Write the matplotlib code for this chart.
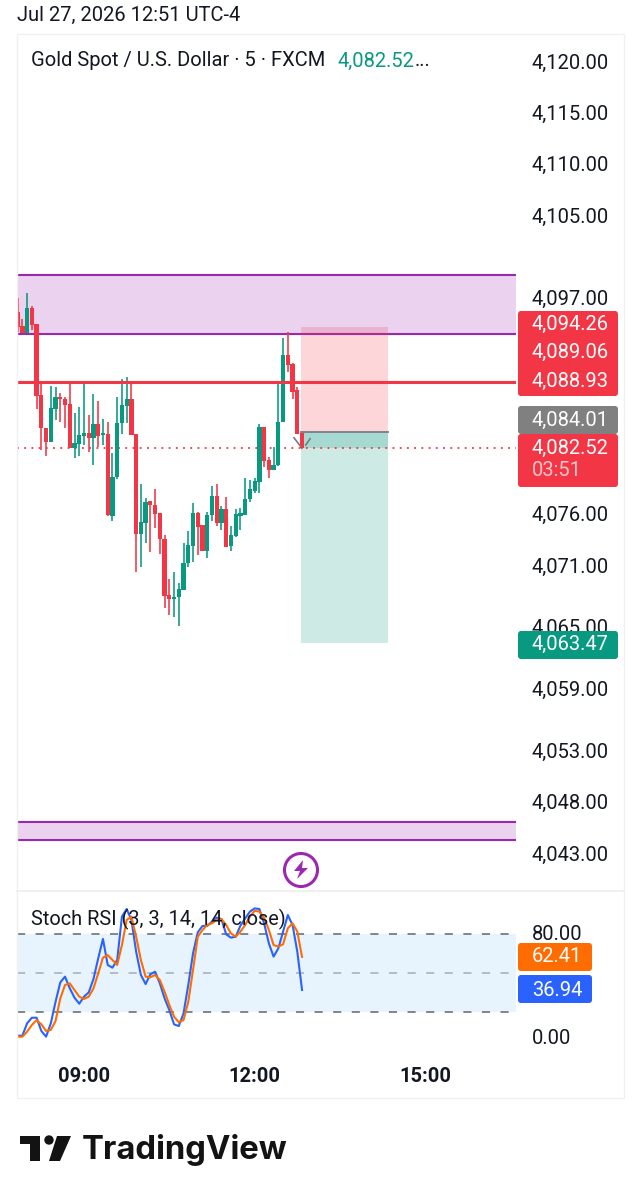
import matplotlib
matplotlib.use("Agg")
import matplotlib.pyplot as plt
import matplotlib.transforms as mtrans
import numpy as np
from matplotlib.patches import Circle, FancyBboxPatch, Polygon, Rectangle

plt.rcParams["font.family"] = ["Roboto", "DejaVu Sans"]

# candles, 5 min bars, bar 0 is 09:00
opens = [4095.6, 4094.27, 4093.69, 4096.05, 4094.43, 4087.57, 4084.39, 4083.03, 4086.27, 4087.37, 4087.21, 4086.66,
         4082.51, 4082.87, 4083.64, 4083.84, 4083.42, 4084.71, 4083.74, 4083.74, 4075.86, 4079.62, 4084.88, 4086.56,
         4087.14, 4083.74, 4074.11, 4075.21, 4077.25, 4076.93, 4076.06, 4073.59, 4068.12, 4067.76, 4067.96, 4068.67,
         4071.26, 4072.95, 4076.06, 4074.89, 4072.46, 4075.93, 4077.74, 4075.15, 4076.45, 4072.95, 4073.92, 4075.86,
         4075.96, 4077.48, 4078.33, 4079.21, 4084.49, 4081.25, 4080.34, 4080.79, 4084.97, 4091.45, 4090.55, 4088.02,
         4083.90]
highs = [4097.03, 4094.98, 4097.51, 4096.28, 4094.43, 4088.83, 4084.39, 4088.54, 4088.44, 4087.79, 4087.47, 4088.83,
         4085.85, 4086.5, 4088.67, 4085.69, 4087.73, 4087.08, 4085.26, 4085.04, 4081.95, 4087.47, 4089.15, 4089.35,
         4088.83, 4083.74, 4078.94, 4077.58, 4077.32, 4078.45, 4076.06, 4074.02, 4069.71, 4070.45, 4069.32, 4073.21,
         4074.37, 4077.09, 4076.28, 4074.99, 4076.28, 4078.81, 4078.97, 4076.83, 4077.68, 4074.89, 4076.51, 4076.61,
         4079.59, 4079.36, 4079.53, 4084.81, 4084.49, 4081.64, 4082.61, 4088.67, 4093.14, 4093.72, 4090.77, 4088.44,
         4083.90]
lows = [4093.79, 4093.69, 4093.69, 4093.95, 4086.24, 4082.28, 4081.7, 4083.03, 4085.2, 4085.04, 4084.39, 4082.45,
        4081.47, 4081.7, 4082.77, 4082.12, 4080.83, 4082.61, 4082.77, 4075.9, 4075.41, 4079.43, 4083.84, 4084.88,
        4083.74, 4070.45, 4070.94, 4073.21, 4072.33, 4074.66, 4072.17, 4066.95, 4066.24, 4066.08, 4065.17, 4068.67,
        4070.94, 4071.42, 4072.07, 4072.46, 4071.75, 4075.41, 4074.89, 4074.5, 4072.82, 4072.49, 4073.86, 4074.5,
        4075.96, 4077.26, 4078.07, 4078.14, 4080.66, 4079.59, 4080.34, 4080.73, 4084.97, 4089.83, 4087.24, 4083.84,
        4082.4]
closes = [4094.27, 4093.69, 4096.05, 4094.43, 4087.57, 4084.39, 4083.03, 4086.27, 4087.37, 4087.21, 4086.66, 4082.51,
          4082.93, 4083.64, 4083.84, 4083.42, 4084.71, 4083.64, 4083.84, 4075.96, 4079.62, 4084.88, 4086.56, 4087.14,
          4083.74, 4074.11, 4075.21, 4077.16, 4076.93, 4076.06, 4073.59, 4068.12, 4067.76, 4067.89, 4068.67, 4071.26,
          4072.95, 4076.06, 4074.76, 4072.46, 4075.93, 4077.74, 4075.15, 4076.45, 4072.88, 4073.92, 4075.96, 4076.06,
          4077.48, 4078.39, 4079.21, 4084.49, 4081.25, 4080.34, 4080.79, 4084.97, 4091.45, 4090.55, 4087.95, 4083.84,
          4082.52]

# stoch rsi
stoch_k = [1.8, 1.8, 11.3, 15.6, 15.6, 5.4, 1.0, 11.3, 27.9, 42.8, 47.2, 38.2, 31.0, 26.4, 31.8, 35.1, 45.4, 61.3,
           76.2, 56.2, 54.1, 60.0, 93.3, 99.2, 90.8, 66.4, 48.5, 41.5, 49.0, 51.0, 42.0, 30.5, 21.5, 10.5, 9.2, 19.0,
           40.8, 65.1, 81.3, 86.2, 86.2, 89.5, 92.6, 91.5, 79.7, 77.2, 77.9, 86.4, 92.0, 97.2, 99.7, 99.2, 88.2, 72.8,
           62.6, 69.0, 81.8, 94.6, 86.9, 66.4, 36.94]
stoch_d = [1.0, 1.0, 4.9, 10.0, 13.8, 10.5, 5.4, 6.2, 13.1, 30.5, 40.8, 42.0, 36.9, 31.8, 30.0, 31.8, 38.2, 49.7,
           61.8, 63.8, 60.0, 56.2, 71.5, 90.8, 93.3, 77.9, 60.0, 47.2, 46.7, 48.5, 44.6, 35.6, 25.4, 16.4, 12.1, 13.8,
           27.9, 52.3, 77.9, 83.1, 86.9, 88.2, 90.8, 91.5, 86.9, 80.5, 77.9, 81.8, 86.9, 93.3, 97.9, 97.2, 92.6, 83.1,
           71.5, 70.3, 72.1, 84.4, 88.2, 81.8, 62.41]

price_ticks = [4120, 4115, 4110, 4105, 4097, 4076, 4071, 4065, 4059, 4053, 4048, 4043]
stoch_ticks = [80, 0]
time_ticks = [0, 36, 72]
time_labels = ["09:00", "12:00", "15:00"]

upper_zone = [4093.55, 4099.3]
lower_zone = [4044.4, 4046.1]
resistance = 4088.93
last_price = 4082.52
entry = 4084.01
stop = 4094.26
target = 4063.47
tool_start = 45.7
tool_end = 64.2

GREEN = "#089981"
RED = "#F23645"
PURPLE = "#9C27B0"
TEXT = "#131722"

W, H = 641, 1200


def pane(left, top, right, bottom):
    return fig.add_axes([left / W, 1 - bottom / H, (right - left) / W, (bottom - top) / H])


def badge(x0, y0, x1, y1, color):
    over.add_patch(FancyBboxPatch((x0 + 2, y0 + 2), x1 - x0 - 4, y1 - y0 - 4, boxstyle="round,pad=2,rounding_size=3",
                                  fc=color, ec="none"))


fig = plt.figure(figsize=(W / 100, H / 100), dpi=100, facecolor="white")
up_1px = mtrans.ScaledTranslation(0, 1 / 100, fig.dpi_scale_trans)

bars = np.arange(-14, 47)
opens_a, closes_a = np.array(opens), np.array(closes)
colors = [GREEN if c >= o else RED for o, c in zip(opens, closes)]

ax = pane(17, 34, 516, 891)
ax.set_xlim((17 - 84) / 4.74, (516 - 84) / 4.74)
ax.set_ylim(4120 - (891 - 62) / 10.286, 4120 + (62 - 34) / 10.286)

# zones
for lo, hi in [upper_zone, lower_zone]:
    ax.axhspan(lo, hi, fc=PURPLE, alpha=0.2, lw=0, zorder=1)
    ax.axhline(lo, color=PURPLE, lw=1.5, zorder=2)
    ax.axhline(hi, color=PURPLE, lw=1.5, zorder=2)

# short position tool
ax.fill_between([tool_start, tool_end], entry, stop, color=RED, alpha=0.2, lw=0, zorder=2)
ax.fill_between([tool_start, tool_end], target, entry, color=GREEN, alpha=0.2, lw=0, zorder=2)
ax.fill_between([tool_start, tool_end], last_price, entry, color=GREEN, alpha=0.2, lw=0, zorder=2)
ax.plot([tool_start, tool_end], [entry, entry], color="#787B86", lw=1.3, zorder=3)

ax.vlines(bars, lows, highs, colors=colors, lw=1.15, zorder=4)
ax.bar(bars, np.abs(closes_a - opens_a) + 0.05, bottom=np.minimum(opens_a, closes_a), width=0.9, color=colors,
       lw=0, zorder=5)

ax.axhline(resistance, color=RED, lw=2.2, zorder=6)
ax.axhline(last_price, color=RED, lw=1.3, ls=(0, (1, 3)), zorder=3)

# entry marker
ax.plot([44.3, 45.7], [last_price + 0.95, last_price + 0.1], color="#787B86", lw=1.2, zorder=6)
ax.plot([46.8, 47.7], [last_price + 0.25, last_price + 0.85], color="#787B86", lw=1.2, zorder=6)

ax.set_xticks([])
ax.yaxis.tick_right()
ax.set_yticks(price_ticks)
ax.set_yticklabels([f"{p:,.2f}" for p in price_ticks], fontsize=14.5, color=TEXT)
ax.tick_params(axis="y", length=0, pad=11.5)
for s in ax.spines.values():
    s.set_visible(False)

ax2 = pane(17, 891, 516, 1098)
ax2.set_xlim(ax.get_xlim())
ax2.set_ylim(-(1098 - 1038) / 1.3, (1038 - 891) / 1.3)
ax2.axhspan(20, 80, fc="#2196F3", alpha=0.1, lw=0, zorder=1)
for level, col in [(80, "#787B86"), (50, "#B2B5BE"), (20, "#787B86")]:
    ax2.axhline(level, color=col, lw=1.3, ls=(0, (4.5, 5.8)), zorder=2)
ax2.plot(bars, stoch_k, color="#2962FF", lw=1.5, zorder=3)
ax2.plot(bars, stoch_d, color="#FF6D00", lw=1.5, zorder=4)
ax2.yaxis.tick_right()
ax2.set_yticks(stoch_ticks)
ax2.set_yticklabels([f"{v:.2f}" for v in stoch_ticks], fontsize=14.5, color=TEXT)
ax2.set_xticks(time_ticks)
ax2.set_xticklabels(time_labels, fontsize=14.5, fontweight="bold", color=TEXT)
ax2.tick_params(axis="y", length=0, pad=11.5)
ax2.tick_params(axis="x", length=0, pad=-22.4)
for s in ax2.spines.values():
    s.set_visible(False)

for label in ax.get_yticklabels() + ax2.get_yticklabels():
    label.set_transform(label.get_transform() + up_1px)

# pixel space layer for frame, badges and logo
over = fig.add_axes([0, 0, 1, 1], zorder=10)
over.set_xlim(0, W)
over.set_ylim(H, 0)
over.axis("off")
over.patch.set_alpha(0)

over.add_patch(Rectangle((17, 34), 607, 1064, fc="none", ec="#F0F0F0", lw=1))
over.plot([17, 624], [891, 891], color="#EEEEEE", lw=1.2)

over.text(17, 15, "Jul 27, 2026 12:51 UTC-4", fontsize=14.5, color=TEXT, va="center")
over.text(31, 61, "Gold Spot / U.S. Dollar · 5 · FXCM", fontsize=14.5, color=TEXT, va="center")
over.text(337, 61, "4,082.52", fontsize=14.5, color=GREEN, va="center")
over.text(415, 61, "...", fontsize=14.5, color=TEXT, va="center")
over.text(31, 919, "Stoch RSI (3, 3, 14, 14, close)", fontsize=14.4, color=TEXT, va="center")

badge(518, 311, 618, 396, RED)
badge(518, 406, 618, 434, "#808080")
badge(518, 434, 618, 487, RED)
badge(518, 631, 618, 659, GREEN)
badge(518, 943, 592, 971, "#FF6D00")
badge(518, 975, 592, 1003, "#2962FF")
for y, label, col in [(324, "4,094.26", "white"), (352, "4,089.06", "white"), (381, "4,088.93", "white"),
                      (420, "4,084.01", "white"), (448, "4,082.52", "white"), (471, "03:51", "#FBC6CB"),
                      (644, "4,063.47", "white"), (957, "62.41", "white"), (990, "36.94", "white")]:
    over.text(532, y, label, fontsize=14.5, color=col, va="center")

# alert icon
over.add_patch(Circle((301, 870), 16.5, fc="white", ec=PURPLE, lw=2.2))
over.add_patch(Polygon([(303, 860), (294, 871), (300, 871), (297, 879), (308, 868), (302, 868)], fc=PURPLE, ec="none"))

# logo
over.add_patch(Polygon([(20, 1136), (40, 1136), (40, 1161), (30, 1161), (30, 1144), (20, 1144)], fc="#131313", ec="none"))
over.add_patch(Circle((49, 1140), 4.7, fc="#131313", ec="none"))
over.add_patch(Polygon([(57, 1136), (71, 1136), (60, 1161), (49, 1161)], fc="#131313", ec="none"))
over.text(82, 1150, "TradingView", fontsize=23.7, fontweight="bold", family=["Inter", "DejaVu Sans"], color="#131313",
          va="center")

fig.savefig("out.png", dpi=100)
